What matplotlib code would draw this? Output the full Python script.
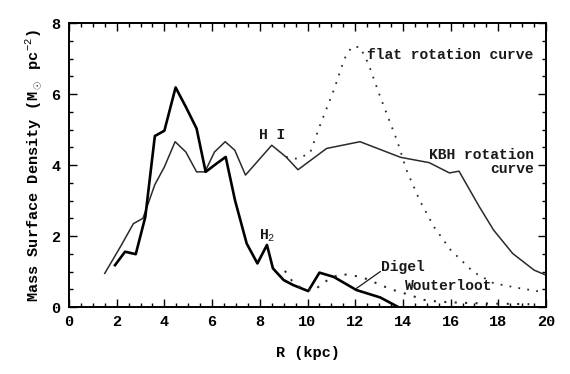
import matplotlib
matplotlib.use("Agg")
import matplotlib.pyplot as plt
from matplotlib.ticker import MultipleLocator

plt.rcParams['font.family'] = ['Liberation Mono', 'DejaVu Sans']
plt.rcParams['mathtext.fontset'] = 'custom'
plt.rcParams['mathtext.rm'] = 'Liberation Mono'

# H I surface density (KBH rotation curve)
hi_r = [1.5, 2.2, 2.7, 3.1, 3.6, 4.0, 4.45, 4.9, 5.35, 5.7, 6.1, 6.55, 6.95, 7.4,
        8.5, 9.1, 9.6, 10.8, 12.2, 13.9, 15.1, 15.95, 16.35, 17.2, 17.8, 18.6, 19.5, 20.0]
hi_s = [0.95, 1.75, 2.35, 2.5, 3.45, 3.95, 4.66, 4.37, 3.81, 3.81, 4.37, 4.66, 4.42, 3.72,
        4.56, 4.23, 3.87, 4.47, 4.66, 4.22, 4.07, 3.78, 3.83, 2.83, 2.17, 1.51, 1.04, 0.90]

# H I with flat rotation curve
flat_r = [9.1, 9.55, 10.1, 10.5, 11.1, 11.55, 11.85, 12.2, 12.55, 13.05, 13.75, 14.15,
          14.7, 15.3, 16.0, 16.95, 17.8, 18.9, 19.8]
flat_s = [4.23, 4.18, 4.33, 5.08, 6.11, 7.0, 7.33, 7.33, 6.86, 5.92, 4.70, 3.86,
          3.01, 2.26, 1.61, 0.99, 0.67, 0.53, 0.43]

# H2 surface density
h2_r = [1.93, 2.35, 2.8, 3.2, 3.6, 4.0, 4.47, 4.9, 5.35, 5.73, 6.2, 6.57, 6.96, 7.45,
        7.9, 8.3, 8.55, 9.0, 9.4, 10.03, 10.5, 11.1, 12.05, 13.05, 13.75]
h2_s = [1.18, 1.56, 1.49, 2.54, 4.82, 4.97, 6.19, 5.64, 5.03, 3.81, 4.05, 4.23, 3.01, 1.79,
        1.23, 1.75, 1.09, 0.76, 0.62, 0.45, 0.97, 0.85, 0.48, 0.27, 0.02]

# Wouterloot outer H2
wl_r = [9.05, 9.35, 9.7, 10.3, 10.6, 11.35, 11.8, 12.3, 13.25, 13.6, 14.0, 14.5, 14.9,
        15.5, 16.5, 17.5, 18.5, 19.3]
wl_s = [1.02, 0.74, 0.55, 0.46, 0.67, 0.93, 0.90, 0.84, 0.57, 0.48, 0.40, 0.29, 0.20,
        0.15, 0.12, 0.10, 0.09, 0.08]

fig = plt.figure(figsize=(5.7, 3.74), dpi=100)
ax = fig.add_axes([0.121, 0.179, 0.837, 0.759])

ax.plot(hi_r, hi_s, color='#2a2a2a', lw=1.1)
ax.plot(flat_r, flat_s, color='#2a2a2a', lw=1.3, linestyle=(0, (1, 4)))
ax.plot(h2_r, h2_s, color='black', lw=1.9)
ax.plot(wl_r, wl_s, color='#2a2a2a', lw=1.5, linestyle=(0, (1, 4)))

ax.set_xlim(0, 20)
ax.set_ylim(0, 8)
ax.xaxis.set_major_locator(MultipleLocator(2))
ax.xaxis.set_minor_locator(MultipleLocator(0.5))
ax.yaxis.set_major_locator(MultipleLocator(2))
ax.yaxis.set_minor_locator(MultipleLocator(0.5))
ax.tick_params(which='both', direction='in', top=True, right=True, width=1.0,
               labelsize=11, pad=6)
ax.tick_params(which='major', length=6)
ax.tick_params(which='minor', length=3)
for lab in ax.get_xticklabels() + ax.get_yticklabels():
    lab.set_fontweight('bold')
for sp in ax.spines.values():
    sp.set_linewidth(1.4)

ax.set_xlabel('R (kpc)', fontsize=11, fontweight='bold', labelpad=12)
ax.set_ylabel(r'Mass Surface Density (M$_\odot$ pc$^{-2}$)', fontsize=11,
              fontweight='bold', labelpad=6)

tk = dict(fontsize=10.5, fontweight='bold', color='#1a1a1a')
ax.text(8.5, 4.85, 'H I', ha='center', va='center', **tk)
ax.text(8.3, 2.0, r'H$_2$', ha='center', va='center', **tk)
ax.text(12.5, 7.1, 'flat rotation curve', ha='left', va='center', **tk)
ax.text(19.5, 4.28, 'KBH rotation', ha='right', va='center', **tk)
ax.text(19.5, 3.9, 'curve', ha='right', va='center', **tk)
ax.text(13.1, 1.12, 'Digel', ha='left', va='center', **tk)
ax.text(14.1, 0.6, 'Wouterloot', ha='left', va='center', **tk)
ax.plot([13.05, 12.06], [1.0, 0.53], color='#1a1a1a', lw=0.9)

fig.savefig('out.png', dpi=100)
